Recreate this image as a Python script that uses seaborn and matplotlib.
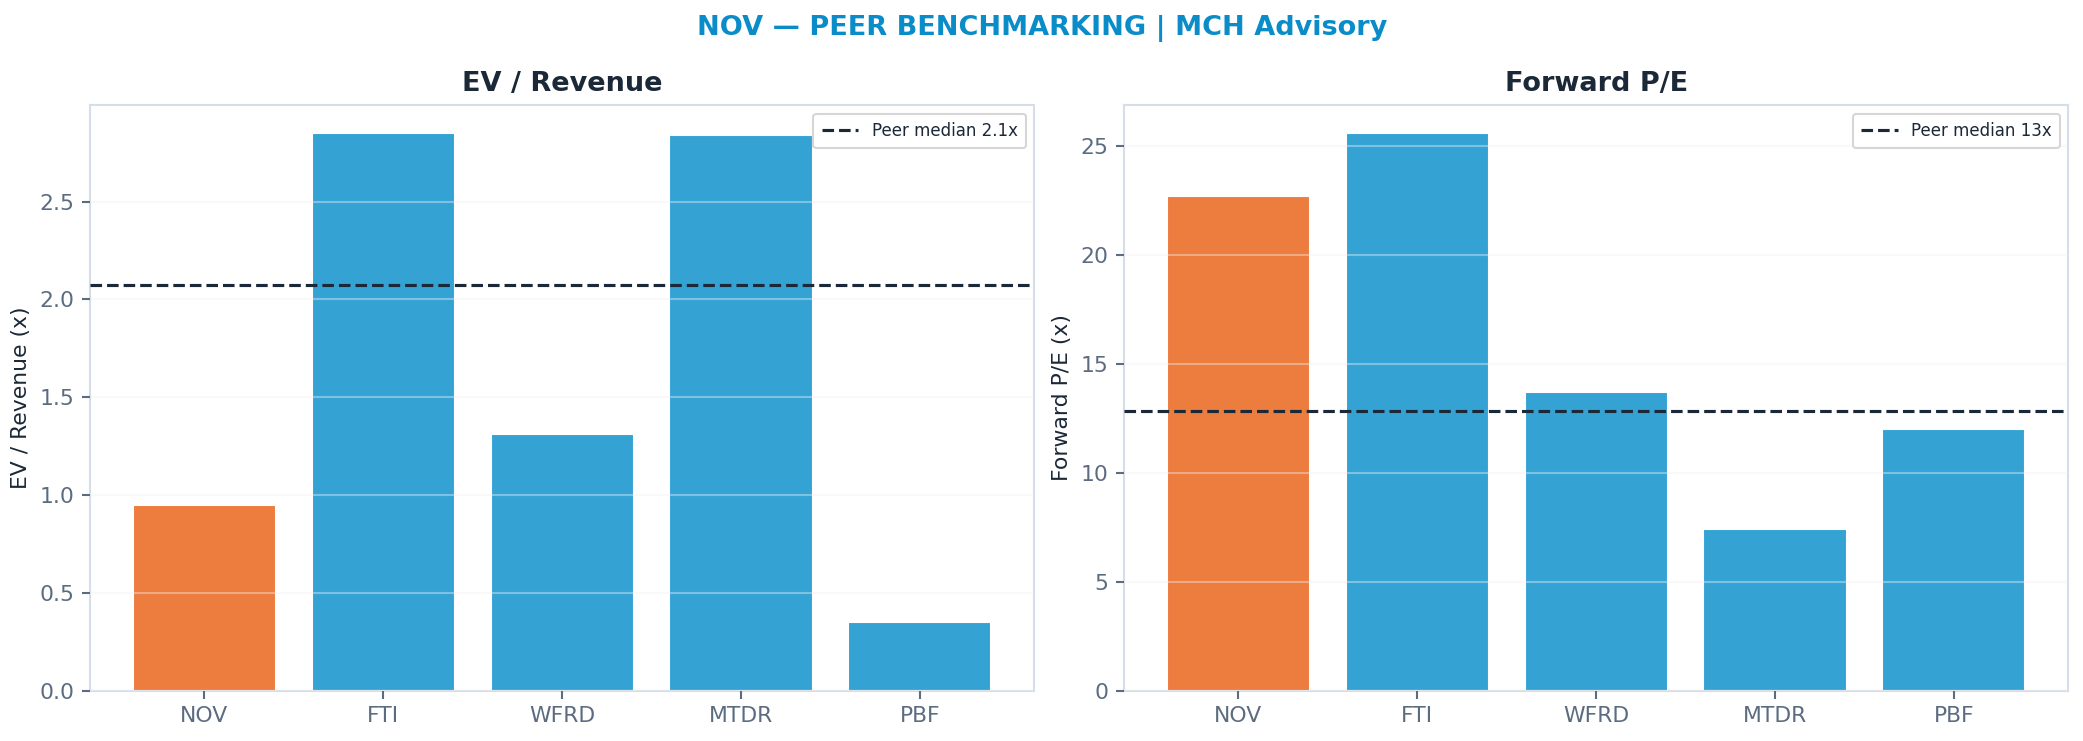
import numpy as np
import pandas as pd
import matplotlib
matplotlib.use("Agg")
import matplotlib.pyplot as plt
import seaborn as sns

tickers = ["NOV", "FTI", "WFRD", "MTDR", "PBF"]
ev_revenue = [0.95, 2.85, 1.31, 2.84, 0.35]
forward_pe = [22.7, 25.6, 13.7, 7.4, 12.0]
focus = "NOV"

sns.set_theme(style="white")
plt.rcParams["font.family"] = ["DejaVu Sans"]

ORANGE = "#ED7C3F"
BLUE = "#34A3D4"
DARK = "#1B2838"
TICK = "#5B6B80"
SPINE = "#D5DDE8"

fig, axes = plt.subplots(1, 2, figsize=(13.893, 4.94), dpi=150)
fig.subplots_adjust(left=0.0432, right=0.9925, top=0.858, bottom=0.068, wspace=0.095)

panels = [
    (axes[0], ev_revenue, "EV / Revenue", "EV / Revenue (x)", "{:.1f}"),
    (axes[1], forward_pe, "Forward P/E", "Forward P/E (x)", "{:.0f}"),
]

for ax, vals, title, ylabel, fmt in panels:
    df = pd.DataFrame({"ticker": tickers, "value": vals})
    palette = {t: (ORANGE if t == focus else BLUE) for t in tickers}
    sns.barplot(data=df, x="ticker", y="value", hue="ticker", palette=palette,
                legend=False, ax=ax, width=0.8, saturation=1, zorder=1)
    med = float(np.median([v for t, v in zip(tickers, vals) if t != focus]))
    ax.axhline(med, color=DARK, linestyle="--", linewidth=1.5,
               label=f"Peer median {fmt.format(med)}x", zorder=3)
    ax.set_axisbelow(False)
    ax.grid(axis="y", color="#F0F0F0", alpha=0.4, linewidth=1, zorder=2)
    ax.set_xlim(-0.64, 4.64)
    ax.set_title(title, fontsize=13, fontweight="bold", color=DARK, pad=7)
    ax.set_xlabel("")
    ax.set_ylabel(ylabel, fontsize=10.5, color=DARK)
    ax.tick_params(axis="both", colors=TICK, labelsize=10.5, length=4, width=1)
    ax.tick_params(axis="y", left=True)
    ax.tick_params(axis="x", bottom=True)
    for s in ax.spines.values():
        s.set_color(SPINE)
        s.set_linewidth(1)
    leg = ax.legend(loc="upper right", fontsize=8, frameon=True, handlelength=2.2,
                    borderpad=0.5)
    leg.get_frame().set_edgecolor("#CCCCCC")
    for t in leg.get_texts():
        t.set_color(DARK)

fig.suptitle("NOV — PEER BENCHMARKING | MCH Advisory", fontsize=13,
             fontweight="bold", color="#0A8CC8", y=0.98)

fig.savefig("out.png", dpi=150, facecolor="white")
